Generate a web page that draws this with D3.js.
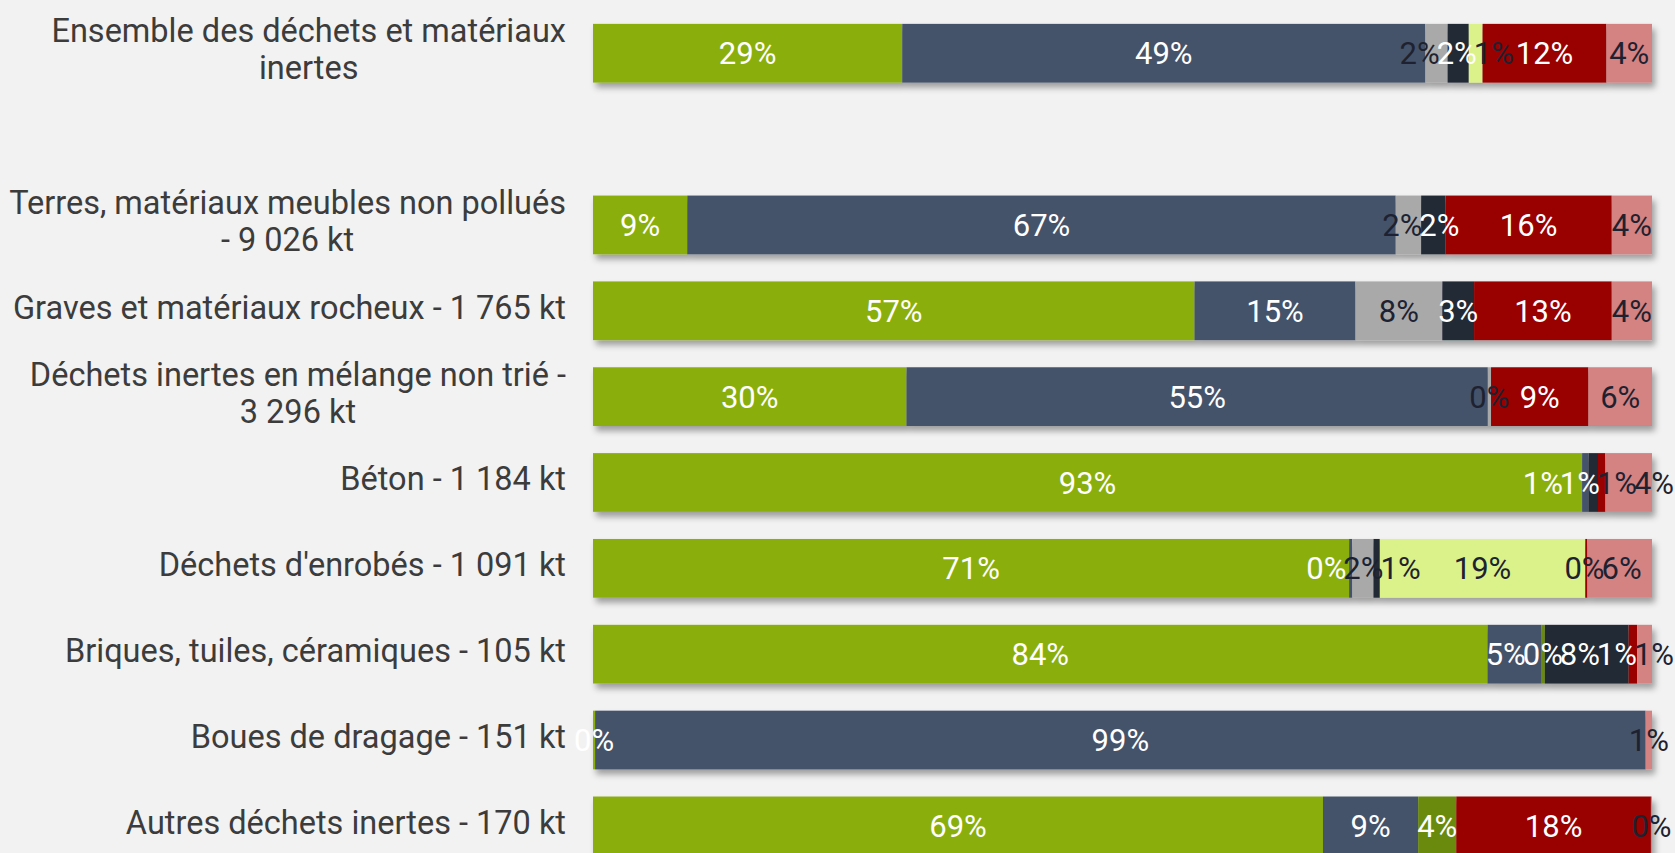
<!DOCTYPE html>
<html>
<head>
<meta charset="utf-8">
<script src="https://d3js.org/d3.v7.min.js"></script>
<style>
body{margin:0;background:#f2f2f2;}
svg{display:block;font-family:Roboto, "Noto Sans", sans-serif;}
</style>
</head>
<body>
<div id="chart"></div>
<script>
// categories (line breaks as in the original labels)
var categories = [
  "Ensemble des déchets et matériaux\ninertes",
  "Terres, matériaux meubles non pollués\n- 9 026 kt",
  "Graves et matériaux rocheux - 1 765 kt",
  "Déchets inertes en mélange non trié -\n3 296 kt",
  "Béton - 1 184 kt",
  "Déchets d'enrobés - 1 091 kt",
  "Briques, tuiles, céramiques - 105 kt",
  "Boues de dragage - 151 kt",
  "Autres déchets inertes - 170 kt"
];

// share of each destination, in %, one value per category
var serieA = [29.2,  8.9, 56.8, 29.6, 93.4, 71.4, 84.3,  0.2, 69.0];
var serieB = [49.4, 66.9, 15.2, 54.9,  0.6,  0.3,  5.1, 99.2,  9.0];
var serieC = [ 0,    0,    0,    0,    0,    0,    0.3,  0,    3.6];
var serieD = [ 2.1,  2.4,  8.2,  0.3,  0,    2.0,  0,    0,    0  ];
var serieE = [ 2.0,  2.3,  3.0,  0,    0.9,  0.6,  7.9,  0,    0  ];
var serieF = [ 1.3,  0,    0,    0,    0,   19.4,  0,    0,    0  ];
var serieG = [11.7, 15.7, 13.0,  9.2,  0.7,  0.2,  0.8,  0,   18.4];
var serieH = [ 4.3,  3.8,  3.8,  6.0,  4.4,  6.1,  1.4,  0.6,  0.1];

var keys = ["A","B","C","D","E","F","G","H"];
var series = {A:serieA,B:serieB,C:serieC,D:serieD,E:serieE,F:serieF,G:serieG,H:serieH};
var colors = {A:"#8aaf11",B:"#45536a",C:"#6a8a0e",D:"#a9a9a9",E:"#232a36",F:"#dbf28a",G:"#990000",H:"#d48282"};
var textColors = {A:"#fff",B:"#fff",C:"#fff",D:"#1e2230",E:"#fff",F:"#1e2230",G:"#fff",H:"#1e2230"};

var W = 1675, H = 853;

var table = categories.map(function(c,i){
  var row = {cat:c, slot: i==0 ? 0 : i+1};
  keys.forEach(function(k){ row[k] = series[k][i]; });
  return row;
});

var stack = d3.stack().keys(keys).offset(d3.stackOffsetExpand);
var stacked = stack(table);

var svg = d3.select("#chart").append("svg")
  .attr("width", W).attr("height", H);

svg.append("rect").attr("width",W).attr("height",H).attr("fill","#f2f2f2");

var defs = svg.append("defs");
var f = defs.append("filter").attr("id","shadow")
  .attr("x","-5%").attr("y","-20%").attr("width","110%").attr("height","160%");
f.append("feDropShadow").attr("dx",3).attr("dy",5).attr("stdDeviation",3)
  .attr("flood-color","#000").attr("flood-opacity",0.35);

var x = d3.scaleLinear().domain([0,1]).range([593, 1652]);
var y = d3.scaleBand().domain(d3.range(10)).range([10.3, 868.8])
  .paddingInner(0.316).paddingOuter(0.158);

// bars
var rows = svg.append("g").selectAll("g.row")
  .data(table).enter().append("g")
  .attr("class","row")
  .attr("filter","url(#shadow)");

rows.each(function(d,i){
  var g = d3.select(this);
  stacked.forEach(function(s){
    var seg = s[i];
    if (seg[1]-seg[0] <= 0) return;
    g.append("rect")
      .attr("x", x(seg[0]))
      .attr("y", y(d.slot))
      .attr("width", x(seg[1]) - x(seg[0]))
      .attr("height", y.bandwidth())
      .attr("fill", colors[s.key]);
  });
});

// value labels, centred on their segment then pushed apart when they collide
var labels = svg.append("g").attr("font-size", 31);
table.forEach(function(d,i){
  var items = [];
  stacked.forEach(function(s){
    var seg = s[i];
    if (d[s.key] <= 0) return;
    var t = labels.append("text")
      .attr("y", y(d.slot) + y.bandwidth()/2)
      .attr("dy", "0.36em")
      .attr("text-anchor","middle")
      .text(Math.round(d[s.key]) + "%");
    items.push({t:t, key:s.key, c:x((seg[0]+seg[1])/2), w:t.node().getComputedTextLength()});
  });
  var tol = 3;
  for (var it=0; it<200; it++){
    var moved = false;
    for (var j=0; j<items.length-1; j++){
      var a = items[j], b = items[j+1];
      var ov = (a.c + a.w/2) - (b.c - b.w/2) - tol;
      if (ov > 0.1){ a.c -= ov/2; b.c += ov/2; moved = true; }
    }
    items.forEach(function(o){ o.c = Math.min(o.c, 1654); o.c = Math.max(o.c, 593); });
    if (!moved) break;
  }
  items.forEach(function(o){
    // white labels that land on a light segment turn dark
    var under = o.key;
    stacked.forEach(function(s){
      var seg = s[i];
      if (seg[1]>seg[0] && o.c >= x(seg[0]) && o.c <= x(seg[1])) under = s.key;
    });
    var col = textColors[o.key];
    if (col == "#fff" && textColors[under] != "#fff") col = textColors[under];
    o.t.attr("x", o.c).attr("fill", col);
  });
});

// category labels, block right aligned, lines centred
var catG = svg.append("g").attr("font-size", 32.5).attr("fill","#3c3c3c");
table.forEach(function(d){
  var lines = d.cat.split("\n");
  var t = catG.append("text");
  var spans = lines.map(function(l){ return t.append("tspan").text(l); });
  var wmax = d3.max(spans, function(s){ return s.node().getComputedTextLength(); });
  var cx = 566 - wmax/2;
  var lh = 37;
  var cy = y(d.slot) + y.bandwidth()/2 - 3 - (lines.length-1)*lh/2;
  t.attr("text-anchor","middle");
  spans.forEach(function(s,j){
    s.attr("x", cx).attr("y", cy + j*lh).attr("dy","0.33em");
  });
});
</script>
</body>
</html>
